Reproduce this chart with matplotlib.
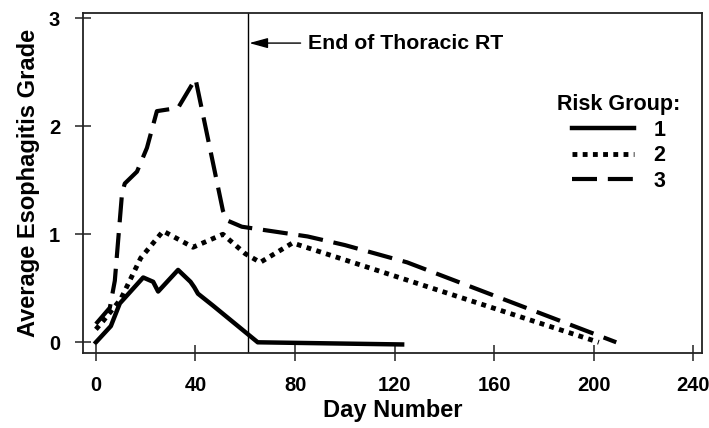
import matplotlib
matplotlib.use("Agg")
import matplotlib.pyplot as plt
from matplotlib import font_manager as fm

# find a bold sans font file
cands = ['Liberation Sans', 'Arimo', 'Nimbus Sans', 'Roboto', 'Open Sans', 'Noto Sans', 'Lato', 'Inter', 'DejaVu Sans']
bold_file = None
for c in cands:
    for f in fm.fontManager.ttflist:
        w = f.weight if isinstance(f.weight, int) else (700 if str(f.weight).lower() == 'bold' else 400)
        if f.name == c and w == 700 and f.style == 'normal' and 'Narrow' not in f.fname and 'Condensed' not in f.fname:
            bold_file = f.fname
            break
    if bold_file:
        break


def fp(size):
    if bold_file:
        return fm.FontProperties(fname=bold_file, size=size)
    return fm.FontProperties(family='DejaVu Sans', weight='bold', size=size)


# Risk group 1 (solid)
day1 = [0, 6, 9.6, 19, 23, 25, 33, 38, 39.5, 41, 47, 65, 123]
grade1 = [0.0, 0.15, 0.36, 0.60, 0.56, 0.47, 0.67, 0.56, 0.51, 0.45, 0.34, 0.0, -0.02]

# Risk group 2 (dotted)
day2 = [0, 3, 10, 18, 27, 39, 51, 60, 66, 79, 202]
grade2 = [0.12, 0.2, 0.40, 0.78, 1.03, 0.88, 1.0, 0.82, 0.74, 0.92, 0.0]

# Risk group 3 (dashed)
day3 = [0, 5.6, 7.6, 10.5, 11.6, 16.5, 20.5, 24.5, 33, 40, 51, 52.5, 58.6, 85, 100, 125, 209]
grade3 = [0.17, 0.32, 0.57, 1.38, 1.47, 1.58, 1.80, 2.14, 2.17, 2.44, 1.22, 1.13, 1.07, 0.98, 0.90, 0.74, 0.0]

group_labels = ['1', '2', '3']
rt_end_day = 61
xticks = [0, 40, 80, 120, 160, 200, 240]
yticks = [0, 1, 2, 3]

fig = plt.figure(figsize=(7.09, 4.28), dpi=100)
ax = fig.add_axes([0.117, 0.175, 0.873, 0.795])

ax.plot(day1, grade1, color='black', lw=3.2, linestyle='-', label=group_labels[0])
ax.plot(day2, grade2, color='black', lw=3.5, linestyle=(0, (1.0, 1.1)), label=group_labels[1],
        dash_capstyle='butt')
ax.plot(day3, grade3, color='black', lw=3.0, linestyle=(0, (6, 2.6)), label=group_labels[2])

ax.axvline(rt_end_day, color='black', lw=1.0)
ax.annotate('End of Thoracic RT', xy=(rt_end_day + 0.6, 2.77), xytext=(85, 2.77),
            fontproperties=fp(15.3), va='center', ha='left',
            arrowprops=dict(arrowstyle='-|>,head_length=0.8,head_width=0.22', color='black', lw=1.0,
                            mutation_scale=14, shrinkA=3, shrinkB=0))

ax.set_xlim(-5.2, 243.4)
ax.set_ylim(-0.10, 3.05)
ax.set_xticks(xticks)
ax.set_yticks(yticks)
ax.tick_params(direction='inout', length=11, width=1.1, pad=11, color='#222222')
for lab in ax.get_xticklabels() + ax.get_yticklabels():
    lab.set_fontproperties(fp(14.5))
for s in ax.spines.values():
    s.set_linewidth(1.3)
    s.set_color('#222222')

ax.set_xlabel('Day Number', fontproperties=fp(17), labelpad=3)
ax.set_ylabel('Average Esophagitis Grade', fontproperties=fp(17), labelpad=6)

leg = ax.legend(title='Risk Group:', loc='upper left', bbox_to_anchor=(0.766, 0.762),
                frameon=False, prop=fp(15.5), title_fontproperties=fp(15.5), handlelength=2.9,
                handletextpad=0.9, labelspacing=0.22, borderpad=0, borderaxespad=0)

fig.savefig('out.png', dpi=100)
